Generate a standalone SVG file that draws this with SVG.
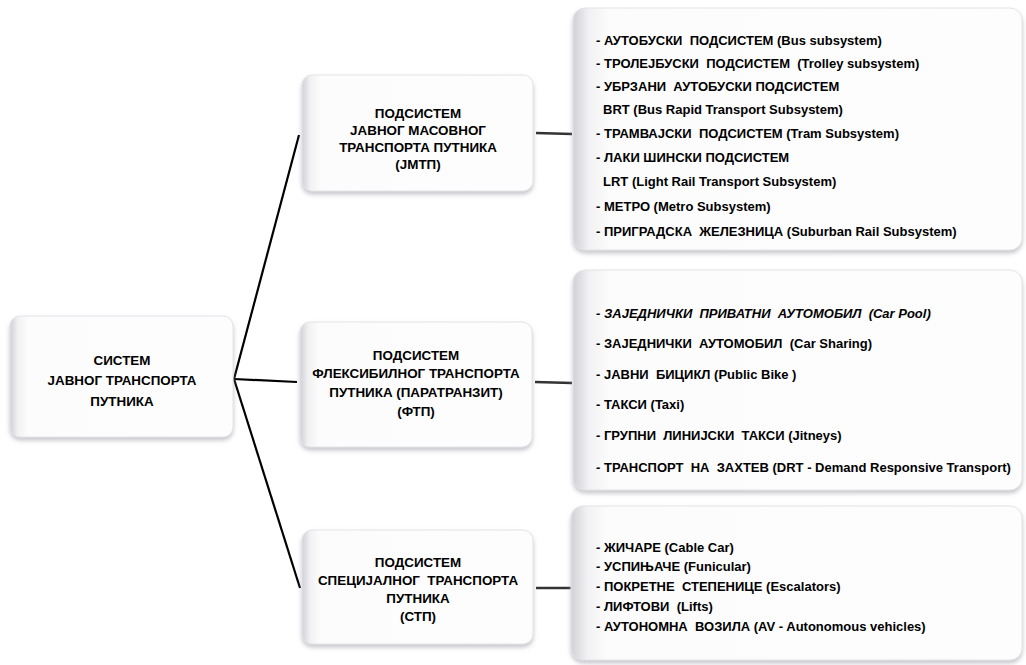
<svg xmlns="http://www.w3.org/2000/svg" width="1026" height="665" viewBox="0 0 1026 665">
<defs>
<linearGradient id="lg" x1="0" y1="0" x2="1" y2="0">
<stop offset="0" stop-color="#d0d0d6"/>
<stop offset="0.035" stop-color="#f1f1f3"/>
<stop offset="0.08" stop-color="#fcfcfc"/>
<stop offset="1" stop-color="#fdfdfd"/>
</linearGradient>
<filter id="sh" x="-5%" y="-5%" width="110%" height="115%">
<feDropShadow dx="0" dy="3" stdDeviation="2" flood-color="#9a9aa6" flood-opacity="0.55"/>
</filter>
</defs>
<style>
.box{fill:url(#lg);stroke:#e4e4e8;stroke-width:1;filter:url(#sh)}
text{font-family:"Liberation Sans",Arial,sans-serif;font-weight:bold;font-size:13px;fill:#000;white-space:pre}
.c{text-anchor:middle;font-size:13.4px}
.i{font-style:italic}
.ln{stroke:#000;stroke-width:2.2;fill:none}
.sl{stroke:#333;stroke-width:2.5;fill:none}
</style>
<rect width="1026" height="665" fill="#fff"/>
<g id="connectors">
<line class="ln" x1="234" y1="379" x2="299" y2="135"/>
<line class="ln" x1="234" y1="379" x2="297" y2="382"/>
<line class="ln" x1="234" y1="379" x2="300" y2="588"/>
<line class="sl" x1="536" y1="133" x2="572" y2="134"/>
<line class="sl" x1="535" y1="382" x2="572" y2="383"/>
<line class="sl" x1="536" y1="588" x2="572" y2="588"/>
</g>
<g id="root">
<rect class="box" x="10" y="316" width="223" height="121" rx="10"/>
<text class="c" x="122" y="365">СИСТЕМ</text>
<text class="c" x="122" y="385">ЈАВНОГ ТРАНСПОРТА</text>
<text class="c" x="122" y="406">ПУТНИКА</text>
</g>
<g id="jmtp">
<rect class="box" x="302" y="75" width="231" height="116" rx="10"/>
<text class="c" x="418" y="118">ПОДСИСТЕМ</text>
<text class="c" x="418" y="135">ЈАВНОГ МАСОВНОГ</text>
<text class="c" x="418" y="152">ТРАНСПОРТА ПУТНИКА</text>
<text class="c" x="418" y="168.5">(ЈМТП)</text>
</g>
<g id="ftp">
<rect class="box" x="300" y="322" width="232" height="125" rx="10"/>
<text class="c" x="416" y="360">ПОДСИСТЕМ</text>
<text class="c" x="416" y="378">ФЛЕКСИБИЛНОГ ТРАНСПОРТА</text>
<text class="c" x="416" y="397">ПУТНИКА (ПАРАТРАНЗИТ)</text>
<text class="c" x="416" y="415.5">(ФТП)</text>
</g>
<g id="stp">
<rect class="box" x="302" y="530" width="231" height="114" rx="10"/>
<text class="c" x="418" y="567">ПОДСИСТЕМ</text>
<text class="c" x="418" y="585">СПЕЦИЈАЛНОГ  ТРАНСПОРТА</text>
<text class="c" x="418" y="603">ПУТНИКА</text>
<text class="c" x="418" y="621">(СТП)</text>
</g>
<g id="list-jmtp">
<rect class="box" x="573" y="8" width="449" height="242" rx="12"/>
<text x="596" y="44.5">- АУТОБУСКИ  ПОДСИСТЕМ (Bus subsystem)</text>
<text x="596" y="67.5">- ТРОЛЕЈБУСКИ  ПОДСИСТЕМ  (Trolley subsystem)</text>
<text x="596" y="90.5">- УБРЗАНИ  АУТОБУСКИ ПОДСИСТЕМ</text>
<text x="603" y="113.5">BRT (Bus Rapid Transport Subsystem)</text>
<text x="596" y="137.5">- ТРАМВАЈСКИ  ПОДСИСТЕМ (Tram Subsystem)</text>
<text x="596" y="161.5">- ЛАКИ ШИНСКИ ПОДСИСТЕМ</text>
<text x="603" y="185.5">LRT (Light Rail Transport Subsystem)</text>
<text x="596" y="210.5">- МЕТРО (Metro Subsystem)</text>
<text x="596" y="235.5">- ПРИГРАДСКА  ЖЕЛЕЗНИЦА (Suburban Rail Subsystem)</text>
</g>
<g id="list-ftp">
<rect class="box" x="573" y="270" width="449" height="220" rx="12"/>
<text class="i" x="596" y="317.5">- ЗАЈЕДНИЧКИ  ПРИВАТНИ  АУТОМОБИЛ  (Car Pool)</text>
<text x="596" y="347.5">- ЗАЈЕДНИЧКИ  АУТОМОБИЛ  (Car Sharing)</text>
<text x="596" y="378.5">- ЈАВНИ  БИЦИКЛ (Public Bike )</text>
<text x="596" y="409">- ТАКСИ (Taxi)</text>
<text x="596" y="440">- ГРУПНИ  ЛИНИЈСКИ  ТАКСИ (Jitneys)</text>
<text x="596" y="471.5">- ТРАНСПОРТ  НА  ЗАХТЕВ (DRT - Demand Responsive Transport)</text>
</g>
<g id="list-stp">
<rect class="box" x="571" y="506" width="451" height="154" rx="12"/>
<text x="596" y="551.5">- ЖИЧАРЕ (Cable Car)</text>
<text x="596" y="571">- УСПИЊАЧЕ (Funicular)</text>
<text x="596" y="591">- ПОКРЕТНЕ  СТЕПЕНИЦЕ (Escalators)</text>
<text x="596" y="611">- ЛИФТОВИ  (Lifts)</text>
<text x="596" y="631">- АУТОНОМНА  ВОЗИЛА (AV - Autonomous vehicles)</text>
</g>
</svg>
